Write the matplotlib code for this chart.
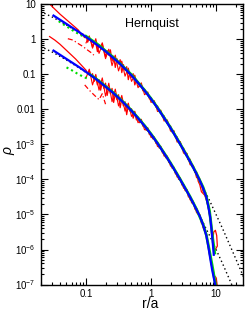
import numpy as np
import matplotlib
matplotlib.use("Agg")
import matplotlib.pyplot as plt
from matplotlib.ticker import LogLocator, FixedLocator, NullFormatter

plt.rcParams['font.family'] = ['Liberation Sans', 'DejaVu Sans']
plt.rcParams['mathtext.fontset'] = 'custom'
plt.rcParams['mathtext.rm'] = 'Liberation Sans'
plt.rcParams['mathtext.it'] = 'Liberation Sans:italic'

# all values are log10(r/a), log10(rho)
dot_lr = [-1.70, -1.50, -1.30, -1.10, -0.90, -0.70, -0.50, -0.30, -0.10, 0.10, 0.30, 0.50, 0.70, 0.90, 1.10, 1.30, 1.45]
dot_up = [0.80, 0.62, 0.41, 0.18, -0.07, -0.35, -0.67, -1.04, -1.47, -1.97, -2.54, -3.17, -3.86, -4.60, -5.40, -6.25, -6.90]
dot_lo = [-0.20, -0.38, -0.59, -0.82, -1.07, -1.35, -1.67, -2.04, -2.47, -2.97, -3.54, -4.17, -4.86, -5.60, -6.40, -7.25, -7.90]

blue_lr = [-1.50, -1.40, -1.30, -1.20, -1.10, -1.00, -0.90, -0.80, -0.70, -0.60, -0.50, -0.40, -0.30, -0.20, -0.10,
           0.00, 0.10, 0.20, 0.30, 0.40, 0.50, 0.60, 0.70, 0.75, 0.80, 0.85, 0.88, 0.91, 0.93, 0.95, 0.965]
blue_up = [0.68, 0.56, 0.44, 0.32, 0.20, 0.07, -0.06, -0.20, -0.34, -0.50, -0.66, -0.84, -1.03, -1.24, -1.46,
           -1.70, -1.96, -2.24, -2.53, -2.84, -3.16, -3.49, -3.84, -4.03, -4.24, -4.50, -4.76, -5.08, -5.42, -5.82, -6.15]
blue_lr2 = [-1.50, -1.40, -1.30, -1.20, -1.10, -1.00, -0.90, -0.80, -0.70, -0.60, -0.50, -0.40, -0.30, -0.20, -0.10,
            0.00, 0.10, 0.20, 0.30, 0.40, 0.50, 0.60, 0.70, 0.75, 0.80, 0.85, 0.88, 0.91, 0.94, 0.97, 0.99]
blue_lo = [-0.32, -0.44, -0.56, -0.68, -0.80, -0.93, -1.06, -1.20, -1.35, -1.50, -1.67, -1.85, -2.04, -2.25, -2.47,
           -2.71, -2.97, -3.25, -3.54, -3.85, -4.17, -4.50, -4.86, -5.05, -5.29, -5.60, -5.90, -6.25, -6.58, -6.85, -7.05]

green_lr = [-1.00, -0.90, -0.80, -0.70, -0.60, -0.50, -0.40, -0.30, -0.20, -0.10, 0.00, 0.10, 0.20, 0.30,
            0.40, 0.50, 0.60, 0.70, 0.80, 0.85, 0.90, 0.95, 0.98]
green_up = [0.09, -0.04, -0.17, -0.33, -0.48, -0.65, -0.83, -1.01, -1.23, -1.45, -1.69, -1.95, -2.23, -2.52,
            -2.83, -3.15, -3.48, -3.83, -4.22, -4.48, -4.90, -5.70, -6.10]
green_lr2 = [-0.95, -0.90, -0.80, -0.70, -0.60, -0.50, -0.40, -0.30, -0.20, -0.10, 0.00, 0.10, 0.20, 0.30,
             0.40, 0.50, 0.60, 0.70, 0.80, 0.85, 0.90, 0.95, 1.00]
green_lo = [-0.99, -1.05, -1.19, -1.34, -1.49, -1.66, -1.84, -2.03, -2.24, -2.46, -2.70, -2.96, -3.24, -3.53,
            -3.84, -4.16, -4.49, -4.85, -5.28, -5.58, -6.05, -6.55, -7.10]
gdot_up_lr = [-1.42, -1.35, -1.28, -1.20, -1.10, -1.00]
gdot_up = [0.52, 0.43, 0.35, 0.25, 0.14, 0.05]
gdot_lo_lr = [-1.30, -1.22, -1.14, -1.06, -0.98]
gdot_lo = [-0.80, -0.88, -0.97, -1.05, -1.12]

red_up_lr = [-1.58, -1.50, -1.40, -1.30, -1.20, -1.12,
             -1.100, -1.075, -1.050, -1.025, -1.000, -0.975, -0.950, -0.925, -0.900, -0.875, -0.850, -0.825,
             -0.800, -0.775, -0.750, -0.725, -0.700, -0.675, -0.650, -0.625, -0.600, -0.575, -0.550, -0.525,
             -0.500, -0.475, -0.450, -0.425, -0.400, -0.375, -0.350, -0.325, -0.300, -0.275, -0.250, -0.225,
             -0.200, -0.175, -0.150, -0.125, -0.100, -0.075, -0.050, -0.025, 0.000, 0.025, 0.050, 0.075,
             0.100, 0.125, 0.150, 0.175, 0.200, 0.225, 0.250, 0.275, 0.300, 0.325, 0.350, 0.375, 0.400,
             0.425, 0.450, 0.475, 0.500, 0.525, 0.550, 0.575, 0.600, 0.625, 0.650, 0.675, 0.700, 0.725,
             0.750, 0.775, 0.800, 0.825, 0.850, 0.875, 0.900, 0.925, 0.950, 0.965, 0.990, 1.010, 1.020, 0.990]
red_up = [1.05, 0.90, 0.72, 0.56, 0.40, 0.27,
          0.22, 0.12, 0.16, 0.05, 0.10, -0.08, 0.03, -0.02, -0.22, -0.07, -0.10, -0.35,
          -0.15, -0.22, -0.10, -0.30, -0.50, -0.32, -0.45, -0.30, -0.62, -0.48, -0.80, -0.55,
          -0.70, -0.58, -0.95, -0.72, -0.88, -0.78, -1.15, -0.96, -1.08, -0.98, -1.30, -1.17,
          -1.22, -1.35, -1.30, -1.47, -1.42, -1.56, -1.55, -1.70, -1.66, -1.80, -1.78, -1.93,
          -1.90, -2.06, -2.06, -2.20, -2.18, -2.34, -2.33, -2.48, -2.47, -2.65, -2.62, -2.80, -2.78,
          -2.95, -2.93, -3.12, -3.10, -3.28, -3.26, -3.45, -3.42, -3.62, -3.60, -3.80, -3.78, -4.05,
          -4.15, -4.35, -4.40, -4.45, -4.58, -4.75, -5.00, -5.35, -5.70, -5.50, -5.45, -5.60, -5.90, -6.00]
red_up2_lr = [-1.28, -1.20, -1.12, -1.05, -0.98, -0.92, -0.88]
red_up2 = [0.02, -0.02, -0.12, -0.20, -0.30, -0.38, -0.45]

red_lo_lr = [-1.56, -1.48, -1.40, -1.32, -1.24, -1.16, -1.08,
             -1.000, -0.975, -0.950, -0.925, -0.900, -0.875, -0.850, -0.825, -0.800, -0.775, -0.750, -0.725,
             -0.700, -0.675, -0.650, -0.625, -0.600, -0.575, -0.550, -0.525, -0.500, -0.475, -0.450, -0.425,
             -0.400, -0.375, -0.350, -0.325, -0.300, -0.275, -0.250, -0.225, -0.200, -0.175, -0.150, -0.125,
             -0.100, -0.075, -0.050, -0.025, 0.000, 0.025, 0.050, 0.075, 0.100, 0.125, 0.150, 0.175, 0.200,
             0.225, 0.250, 0.275, 0.300, 0.325, 0.350, 0.375, 0.400, 0.425, 0.450, 0.475, 0.500, 0.525,
             0.550, 0.575, 0.600, 0.625, 0.650, 0.675, 0.700, 0.725, 0.750, 0.775, 0.800, 0.825, 0.850,
             0.875, 0.900, 0.925, 0.950, 0.975, 1.000, 1.020]
red_lo = [0.08, -0.02, -0.14, -0.28, -0.42, -0.56, -0.72,
          -0.88, -0.98, -0.90, -1.05, -0.98, -1.20, -1.08, -1.30, -1.15, -1.45, -1.22, -1.40,
          -1.25, -1.60, -1.38, -1.55, -1.40, -1.80, -1.55, -1.72, -1.58, -1.95, -1.70, -1.90,
          -1.78, -2.15, -1.90, -2.05, -1.98, -2.25, -2.10, -2.30, -2.22, -2.38, -2.33, -2.48,
          -2.45, -2.60, -2.56, -2.72, -2.69, -2.84, -2.81, -2.97, -2.94, -3.10, -3.08, -3.24, -3.22,
          -3.38, -3.37, -3.52, -3.51, -3.68, -3.67, -3.84, -3.82, -4.00, -3.98, -4.16, -4.14, -4.32,
          -4.30, -4.50, -4.47, -4.67, -4.65, -4.85, -4.82, -5.00, -5.02, -5.25, -5.25, -5.45, -5.55,
          -5.85, -6.05, -6.40, -6.55, -6.75, -6.80, -7.05]
red_lo2_lr = [-1.02, -0.95, -0.88, -0.80, -0.75, -0.70]
red_lo2 = [-1.30, -1.45, -1.58, -1.72, -1.55, -1.85]

# second, rougher red trace along both profiles
fringe_lr = [-1.00, -0.95, -0.90, -0.85, -0.80, -0.75, -0.70, -0.65, -0.60, -0.55, -0.50, -0.45, -0.40,
             -0.35, -0.30, -0.25, -0.20, -0.15, -0.10, -0.05, 0.00, 0.05, 0.10, 0.15, 0.20, 0.25, 0.30,
             0.35, 0.40, 0.45, 0.50, 0.55, 0.60, 0.65, 0.70, 0.75, 0.80, 0.85, 0.90]
fringe_up = [-0.10, 0.10, -0.25, 0.02, -0.40, -0.15, -0.55, -0.28, -0.75, -0.45, -0.90, -0.62, -1.05,
             -0.82, -1.20, -1.02, -1.38, -1.24, -1.58, -1.50, -1.80, -1.75, -2.06, -2.02, -2.33, -2.30, -2.62,
             -2.60, -2.93, -2.92, -3.25, -3.25, -3.58, -3.60, -3.95, -3.98, -4.35, -4.42, -5.00]
fringe_lo = [-1.10, -0.85, -1.30, -1.00, -1.45, -1.10, -1.62, -1.25, -1.78, -1.42, -1.90, -1.60, -2.05,
             -1.82, -2.20, -2.05, -2.38, -2.28, -2.58, -2.52, -2.80, -2.78, -3.06, -3.05, -3.33, -3.33, -3.62,
             -3.64, -3.93, -3.95, -4.25, -4.28, -4.58, -4.62, -4.95, -5.00, -5.38, -5.55, -6.15]

def p(lr, lv):
    return 10.0 ** np.array(lr), 10.0 ** np.array(lv)

fig = plt.figure(figsize=(2.49, 3.12), dpi=100)
ax = fig.add_axes([0.163, 0.088, 0.813, 0.898])
ax.set_xscale('log')
ax.set_yscale('log')

ax.plot(*p(dot_lr, dot_up), color='black', linestyle=(0, (1, 2)), linewidth=1.0)
ax.plot(*p(dot_lr, dot_lo), color='black', linestyle=(0, (1, 2)), linewidth=1.0)

ax.plot(*p(red_up_lr, red_up), color='red', linewidth=0.9)
ax.plot(*p(red_lo_lr, red_lo), color='red', linewidth=0.9)
ax.plot(*p(fringe_lr, fringe_up), color='red', linewidth=0.8)
ax.plot(*p(fringe_lr, fringe_lo), color='red', linewidth=0.8)
ax.plot(*p(red_up2_lr, red_up2), color='red', linewidth=0.9, linestyle=(0, (4, 2, 1, 2)))
ax.plot(*p(red_lo2_lr, red_lo2), color='red', linewidth=0.9, linestyle=(0, (4, 2, 1, 2)))

ax.plot(*p(green_lr, green_up), color='#00dd00', linewidth=2.0)
ax.plot(*p(green_lr2, green_lo), color='#00dd00', linewidth=2.0)
ax.plot(*p(gdot_up_lr, gdot_up), color='#00dd00', linewidth=1.5, linestyle=(0, (1, 1.5)))
ax.plot(*p(gdot_lo_lr, gdot_lo), color='#00dd00', linewidth=1.5, linestyle=(0, (1, 1.5)))

ax.plot(*p(blue_lr, blue_up), color='blue', linewidth=1.6)
ax.plot(*p(blue_lr2, blue_lo), color='blue', linewidth=1.6)

ax.set_xlim(0.02, 26)
ax.set_ylim(1e-7, 10)

ax.xaxis.set_major_locator(FixedLocator([0.1, 1, 10]))
ax.set_xticklabels(['0.1', '1', '10'])
ax.xaxis.set_minor_locator(LogLocator(base=10, subs=np.arange(2, 10)))
ax.xaxis.set_minor_formatter(NullFormatter())

yt = [1e-7, 1e-6, 1e-5, 1e-4, 1e-3, 0.01, 0.1, 1, 10]
ax.yaxis.set_major_locator(FixedLocator(yt))
ax.set_yticklabels([r'$10^{-7}$', r'$10^{-6}$', r'$10^{-5}$', r'$10^{-4}$', r'$10^{-3}$',
                    '0.01', '0.1', '1', '10'])
ax.yaxis.set_minor_locator(LogLocator(base=10, subs=np.arange(2, 10)))
ax.yaxis.set_minor_formatter(NullFormatter())

ax.tick_params(which='both', direction='in', top=True, right=True, labelsize=7, width=0.8)
ax.tick_params(which='major', length=5)
ax.tick_params(which='minor', length=2.5)
for s in ax.spines.values():
    s.set_linewidth(1.0)

ax.text(0.55, 0.93, 'Hernquist', transform=ax.transAxes, fontsize=9, ha='center', va='center')
ax.set_ylabel(r'$\rho$', fontsize=10)
ax.yaxis.set_label_coords(-0.115, 0.48)
ax.set_xlabel('r/a', fontsize=10)
ax.xaxis.set_label_coords(0.54, -0.045)

fig.savefig('out.png', dpi=100)
